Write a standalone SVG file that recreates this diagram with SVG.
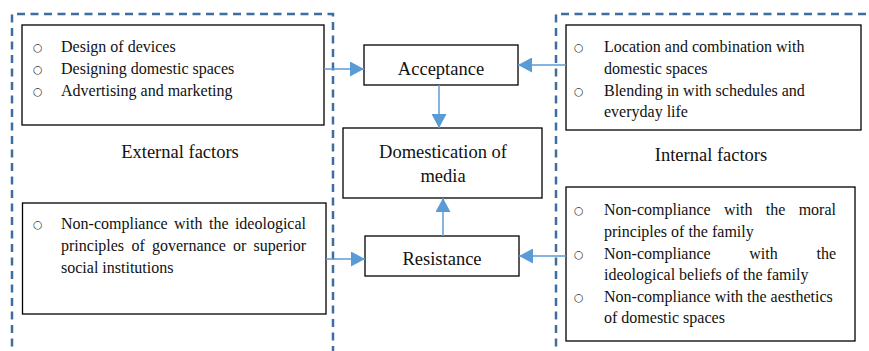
<svg xmlns="http://www.w3.org/2000/svg" width="869" height="351" viewBox="0 0 869 351">
<style>
.dash{fill:none;stroke:#3E6E9E;stroke-width:2.5;stroke-dasharray:8 5.5}
.box{fill:#ffffff;stroke:#000000;stroke-width:1.3}
.t{font-size:16px;fill:#111111}
.c{font-size:18.5px;fill:#111111;text-anchor:middle}
.b{font-size:11px;fill:#333333}
.con{fill:none;stroke:#5B9BD5;stroke-width:1.5}
</style>
<defs>
<marker id="ah" viewBox="0 0 14 15" refX="14" refY="7.5" markerWidth="14" markerHeight="15" markerUnits="userSpaceOnUse" orient="auto">
<path d="M0,0 L14,7.5 L0,15 Z" fill="#5B9BD5"/>
</marker>
</defs>
<rect x="0" y="0" width="869" height="351" fill="#ffffff"/>
<g font-family="Liberation Serif, Times New Roman, serif">
<g id="external-factors">
<path class="dash" d="M12,360 L12,14 L333,14 L333,360"/>
<text class="c" x="180" y="158">External factors</text>
</g>
<g id="internal-factors">
<path class="dash" d="M556,360 L556,14 L875,14"/>
<text class="c" x="711" y="161">Internal factors</text>
</g>
<g id="ext-accept">
<rect class="box" x="22" y="25" width="302" height="100"/>
<text class="b" x="33" y="51" font-family="DejaVu Sans, sans-serif">○</text>
<text class="b" x="33" y="73" font-family="DejaVu Sans, sans-serif">○</text>
<text class="b" x="33" y="95" font-family="DejaVu Sans, sans-serif">○</text>
<text class="t" x="61" y="52">Design of devices</text>
<text class="t" x="61" y="74">Designing domestic spaces</text>
<text class="t" x="61" y="96">Advertising and marketing</text>
</g>
<g id="ext-resist">
<rect class="box" x="22.5" y="203" width="303.5" height="111"/>
<text class="b" x="33" y="228" font-family="DejaVu Sans, sans-serif">○</text>
<text class="t" y="229"><tspan x="61">Non-compliance</tspan><tspan x="174">with</tspan><tspan x="209">the</tspan><tspan x="306" text-anchor="end">ideological</tspan></text>
<text class="t" y="251"><tspan x="61">principles</tspan><tspan x="131.4">of</tspan><tspan x="152">governance</tspan><tspan x="233">or</tspan><tspan x="306" text-anchor="end">superior</tspan></text>
<text class="t" x="61" y="273">social institutions</text>
</g>
<g id="int-accept">
<rect class="box" x="566" y="25" width="295" height="105"/>
<text class="b" x="574" y="51" font-family="DejaVu Sans, sans-serif">○</text>
<text class="b" x="574" y="95" font-family="DejaVu Sans, sans-serif">○</text>
<text class="t" x="604" y="52">Location and combination with</text>
<text class="t" x="604" y="74">domestic spaces</text>
<text class="t" x="604" y="96">Blending in with schedules and</text>
<text class="t" x="604" y="117">everyday life</text>
</g>
<g id="int-resist">
<rect class="box" x="566" y="187" width="289" height="154"/>
<text class="b" x="574" y="214" font-family="DejaVu Sans, sans-serif">○</text>
<text class="b" x="574" y="258" font-family="DejaVu Sans, sans-serif">○</text>
<text class="b" x="574" y="301" font-family="DejaVu Sans, sans-serif">○</text>
<text class="t" y="215"><tspan x="604">Non-compliance</tspan><tspan x="724">with</tspan><tspan x="765.8">the</tspan><tspan x="836" text-anchor="end">moral</tspan></text>
<text class="t" x="604" y="237">principles of the family</text>
<text class="t" y="259"><tspan x="604">Non-compliance</tspan><tspan x="749.3">with</tspan><tspan x="836" text-anchor="end">the</tspan></text>
<text class="t" x="604" y="280">ideological beliefs of the family</text>
<text class="t" x="604" y="302">Non-compliance with the aesthetics</text>
<text class="t" x="604" y="323">of domestic spaces</text>
</g>
<g id="acceptance">
<rect class="box" x="364" y="45" width="154" height="40"/>
<text class="c" x="441" y="75">Acceptance</text>
</g>
<g id="domestication">
<rect class="box" x="343" y="128" width="199" height="70"/>
<text class="c" x="443" y="158">Domestication of</text>
<text class="c" x="443" y="182">media</text>
</g>
<g id="resistance">
<rect class="box" x="365" y="236" width="154" height="40"/>
<text class="c" x="442" y="265">Resistance</text>
</g>
</g>
<g id="connectors">
<line class="con" x1="324" y1="69" x2="364" y2="69" marker-end="url(#ah)"/>
<line class="con" x1="566" y1="65" x2="518" y2="65" marker-end="url(#ah)"/>
<line class="con" x1="326" y1="259" x2="365" y2="259" marker-end="url(#ah)"/>
<line class="con" x1="566" y1="256" x2="519" y2="256" marker-end="url(#ah)"/>
<line class="con" x1="439" y1="85" x2="439" y2="128" marker-end="url(#ah)"/>
<line class="con" x1="443" y1="236" x2="443" y2="198" marker-end="url(#ah)"/>
</g>
</svg>
